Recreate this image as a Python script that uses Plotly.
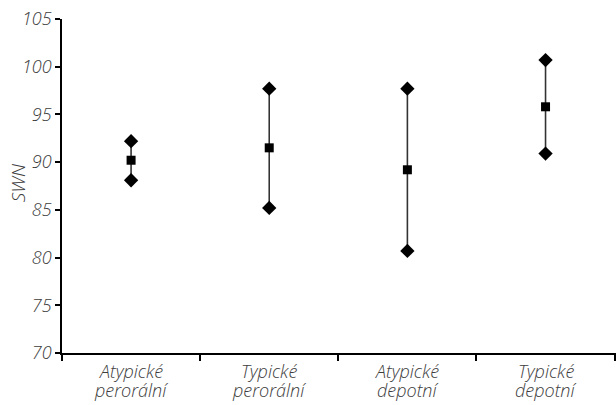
import plotly.graph_objects as go

categories = ["Atypické perorální", "Typické perorální", "Atypické depotní", "Typické depotní"]
mean_vals = [90.2, 91.5, 89.2, 95.8]
upper_vals = [92.2, 97.7, 97.7, 100.7]
lower_vals = [88.1, 85.2, 80.7, 90.9]
y_ticks = [70, 75, 80, 85, 90, 95, 100, 105]
y_title = "SWN"

FONT = "Open Sans"
TXT = "#3c3c3c"

fig = go.Figure()

fig.add_trace(go.Scatter(
    x=categories, y=mean_vals, mode="markers",
    marker=dict(symbol="square", size=9, color="black"),
    error_y=dict(type="data", symmetric=False,
                 array=[u - m for u, m in zip(upper_vals, mean_vals)],
                 arrayminus=[m - l for m, l in zip(mean_vals, lower_vals)],
                 width=0, thickness=1.6, color="#333333"),
    showlegend=False, cliponaxis=False,
))
fig.add_trace(go.Scatter(
    x=categories + categories, y=upper_vals + lower_vals, mode="markers",
    marker=dict(symbol="diamond", size=11, color="black"),
    showlegend=False, cliponaxis=False,
))

# two-line category labels with tight line spacing (as in the reference)
for cat in categories:
    first, second = cat.split(" ")
    for txt, yp in ((first, -0.054), (second, -0.11)):
        fig.add_annotation(
            x=cat, xref="x", y=yp, yref="paper", text=txt, showarrow=False,
            xanchor="center", yanchor="middle", borderpad=0,
            font=dict(family=FONT, size=18, color=TXT, style="italic", weight=300),
        )

# y-axis title
fig.add_annotation(
    x=-0.08, xref="paper", y=0.51, yref="paper", text=y_title, showarrow=False,
    textangle=-90, xanchor="center", yanchor="middle",
    font=dict(family=FONT, size=19, color=TXT, style="italic", weight=300),
)

fig.update_layout(
    width=616, height=405,
    margin=dict(l=62, r=0, t=19, b=52),
    plot_bgcolor="white", paper_bgcolor="white",
    font=dict(family=FONT, color=TXT, size=16),
)
fig.update_xaxes(
    type="category", range=[-0.5, 3.51],
    showline=True, linecolor="black", linewidth=1.5,
    ticks="outside", tickson="boundaries", ticklen=6, tickwidth=1.5, tickcolor="black",
    showgrid=False, zeroline=False, showticklabels=False,
)
fig.update_yaxes(
    range=[70, 105], tickvals=y_ticks,
    showline=True, linecolor="black", linewidth=1.5,
    ticks="outside", ticklen=5, tickwidth=1.5, tickcolor="black",
    showgrid=False, zeroline=False,
    tickfont=dict(family=FONT, size=18, color=TXT, style="italic", weight=300),
)

fig.write_html("out.html")
